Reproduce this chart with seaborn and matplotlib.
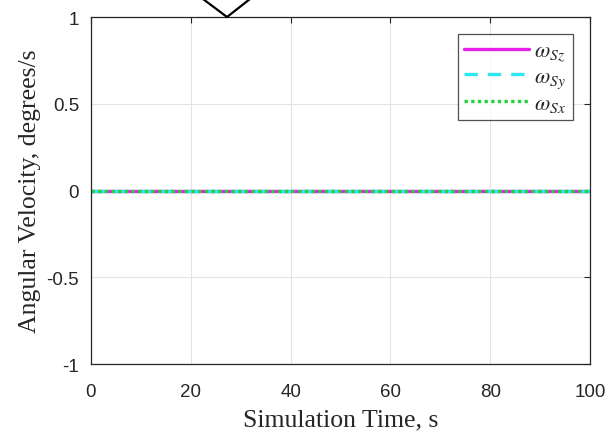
import numpy as np
import pandas as pd
import matplotlib
matplotlib.use("Agg")
import matplotlib.pyplot as plt
from matplotlib.lines import Line2D
import seaborn as sns

# Simulation time samples and angular velocity components (degrees/s)
time_s = [0, 20, 40, 60, 80, 100]
omega_sz = [0, 0, 0, 0, 0, 0]
omega_sy = [0, 0, 0, 0, 0, 0]
omega_sx = [0, 0, 0, 0, 0, 0]

series_labels = [r"$\omega_{Sz}$", r"$\omega_{Sy}$", r"$\omega_{Sx}$"]
x_ticks = [0, 20, 40, 60, 80, 100]
y_ticks = [-1, -0.5, 0, 0.5, 1]
y_tick_labels = ["-1", "-0.5", "0", "0.5", "1"]

sns.set_style("white")
plt.rcParams["mathtext.fontset"] = "stix"
plt.rcParams["font.family"] = ["Liberation Sans", "DejaVu Sans"]

df = pd.DataFrame({
    "t": time_s * 3,
    "w": omega_sz + omega_sy + omega_sx,
    "comp": [series_labels[0]] * len(time_s)
    + [series_labels[1]] * len(time_s)
    + [series_labels[2]] * len(time_s),
})

fig = plt.figure(figsize=(6.11, 4.35), dpi=100)
ax = fig.add_axes([0.1489, 0.1609, 0.8167, 0.7977])

palette = {series_labels[0]: "#e61ee6", series_labels[1]: "#2ee6f0",
           series_labels[2]: "#28d23c"}
styles = {series_labels[0]: (None, None), series_labels[1]: (4, 3),
          series_labels[2]: (1, 1)}

for lab in series_labels:
    sub = df[df["comp"] == lab]
    dash = styles[lab]
    line_kw = {} if dash[0] is None else {"dashes": dash}
    sns.lineplot(data=sub, x="t", y="w", ax=ax, color=palette[lab],
                 linewidth=2.4, label=lab, **line_kw)

ax.set_xlim(0, 100)
ax.set_ylim(-1, 1)
ax.set_xticks(x_ticks)
ax.set_yticks(y_ticks)
ax.set_yticklabels(y_tick_labels)
ax.grid(True, color="#e3e3e3", linewidth=0.8)
ax.set_axisbelow(True)
for sp in ax.spines.values():
    sp.set_visible(True)
    sp.set_color("#262626")
    sp.set_linewidth(0.9)
ax.tick_params(direction="in", length=4, width=0.8, top=True, right=True,
               labelsize=13.5, colors="#262626")
ax.tick_params(axis="x", pad=14)
ax.tick_params(axis="y", pad=8.5)

serif = ["Liberation Serif", "DejaVu Serif"]
ax.set_xlabel("Simulation Time, s", fontsize=18.5, family=serif,
              color="#262626", labelpad=6)
ax.set_ylabel("Angular Velocity, degrees/s", fontsize=18.5, family=serif,
              color="#262626", labelpad=4)

leg = ax.legend(loc="upper right", bbox_to_anchor=(0.966, 0.951),
                borderaxespad=0, fontsize=16, handlelength=2.9,
                labelspacing=0.12, handletextpad=0.25, borderpad=0.3,
                fancybox=False, frameon=True)
leg.get_frame().set_edgecolor("#262626")
leg.get_frame().set_linewidth(0.9)

# Chevron marker above the plot frame
fig.add_artist(Line2D([203 / 611, 227 / 611, 250 / 611],
                      [1.0, 1 - 18 / 435, 1.0],
                      transform=fig.transFigure, color="black",
                      linewidth=1.6))

fig.savefig("out.png", dpi=100)
